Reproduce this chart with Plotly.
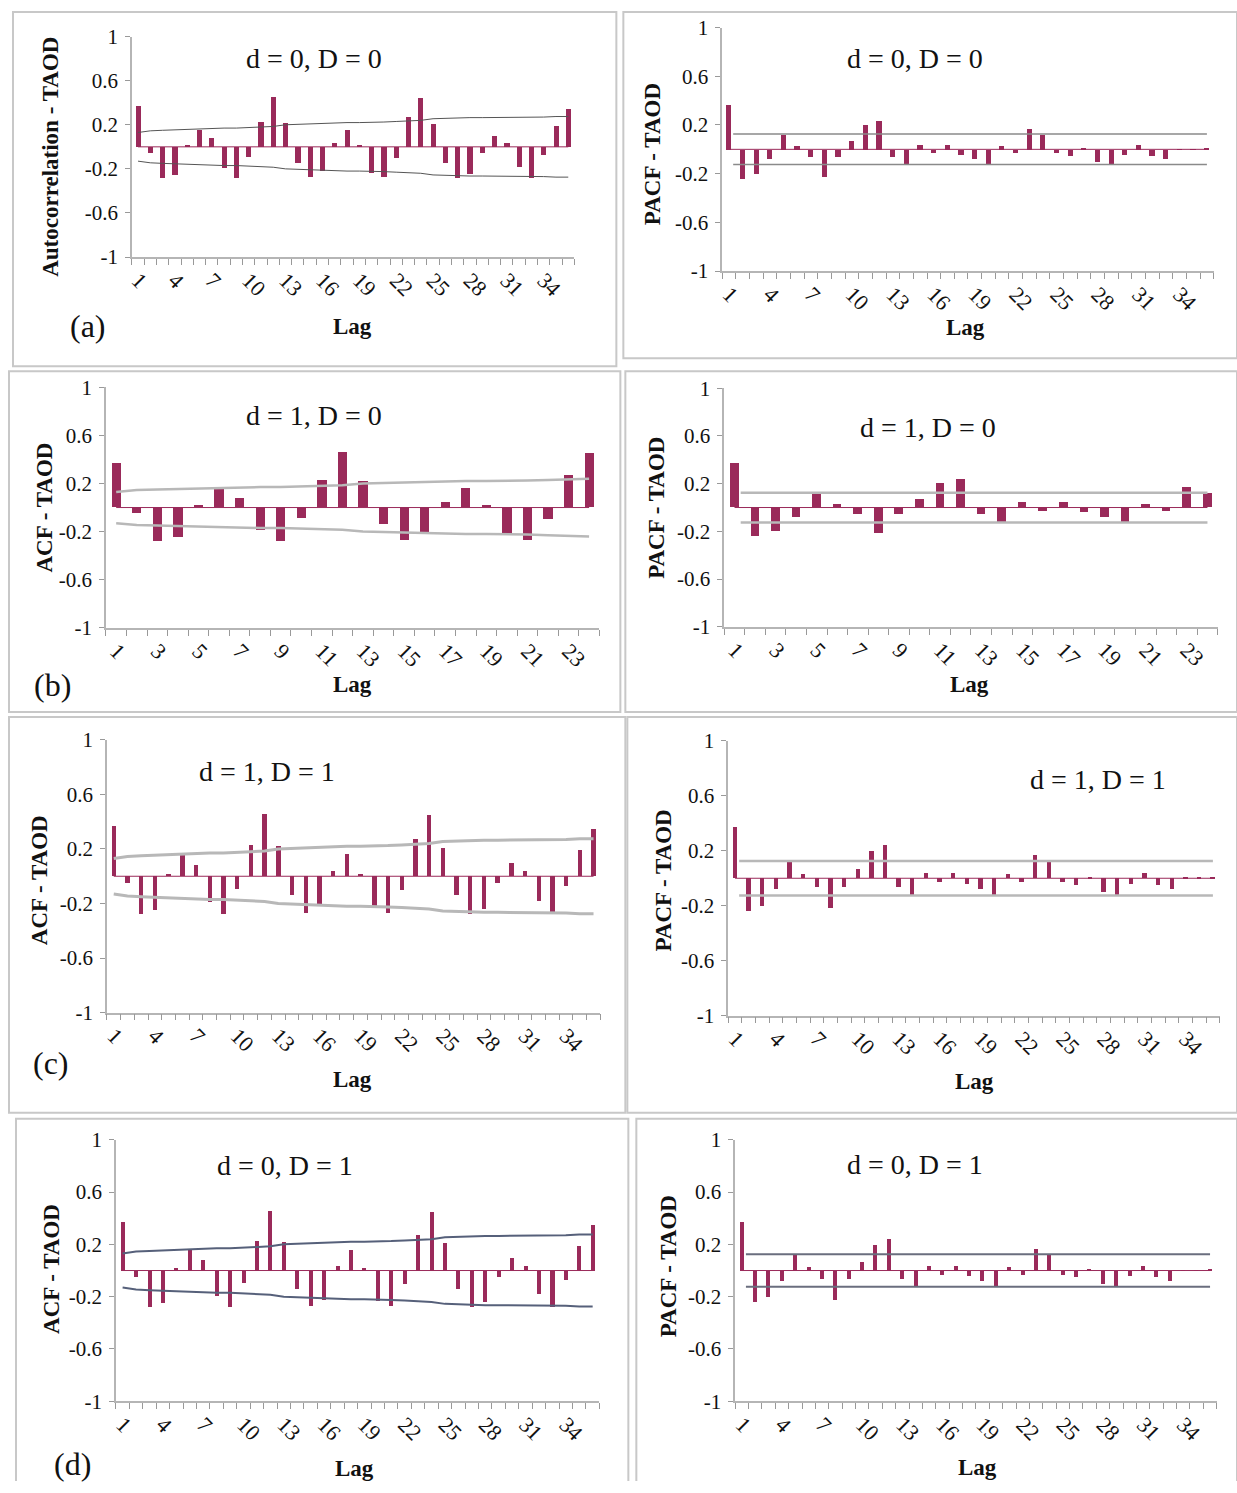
import plotly.graph_objects as go

W, H = 1237, 1493

# ---------------- data ----------------
lags36 = list(range(1, 37))
lags24 = list(range(1, 25))

acf_vals = [0.37, -0.05, -0.28, -0.25, 0.02, 0.16, 0.08, -0.19, -0.28, -0.09,
            0.23, 0.46, 0.22, -0.14, -0.27, -0.22, 0.04, 0.16, 0.02, -0.23,
            -0.27, -0.10, 0.27, 0.45, 0.21, -0.14, -0.28, -0.24, -0.05, 0.10,
            0.04, -0.18, -0.28, -0.07, 0.19, 0.35]
acf_conf = [0.13, 0.145, 0.15, 0.155, 0.16, 0.16, 0.165, 0.17, 0.17, 0.175,
            0.18, 0.185, 0.20, 0.205, 0.21, 0.215, 0.215, 0.22, 0.22, 0.22,
            0.225, 0.23, 0.235, 0.24, 0.255, 0.26, 0.26, 0.265, 0.265, 0.265,
            0.265, 0.27, 0.27, 0.27, 0.275, 0.275]

pacf_vals = [0.37, -0.24, -0.20, -0.08, 0.12, 0.03, -0.06, -0.22, -0.06, 0.07,
             0.20, 0.24, -0.06, -0.12, 0.04, -0.03, 0.04, -0.04, -0.08, -0.12,
             0.03, -0.03, 0.17, 0.12, -0.03, -0.05, 0.01, -0.10, -0.12, -0.04,
             0.04, -0.05, -0.08, 0.005, 0.005, 0.01]
pacf_conf = 0.125

y_ticks = [-1, -0.6, -0.2, 0.2, 0.6, 1]
y_tick_text = ["-1", "-0.6", "-0.2", "0.2", "0.6", "1"]

titles = ["d = 0, D = 0", "d = 0, D = 0", "d = 1, D = 0", "d = 1, D = 0",
          "d = 1, D = 1", "d = 1, D = 1", "d = 0, D = 1", "d = 0, D = 1"]
ylabels = ["Autocorrelation - TAOD", "PACF - TAOD", "ACF - TAOD", "PACF - TAOD",
           "ACF - TAOD", "PACF - TAOD", "ACF - TAOD", "PACF - TAOD"]
panel_tags = ["(a)", "(b)", "(c)", "(d)"]

BAR = "#9a2a5a"
SERIF = "Liberation Serif, Times New Roman, serif"

# ---------------- layout geometry (pixels) ----------------
# plot area: x0, x1, y_top(=1), y_bot(=-1)
areas = [
    (131, 574, 38, 258), (722, 1214, 29, 272),
    (105, 599, 388, 628), (724, 1218, 389, 627),
    (106, 600, 740, 1012), (728, 1220, 741, 1015),
    (115, 599, 1139, 1400), (735, 1217, 1139, 1400),
]
boxes = [
    (12, 616, 6, 367), (623, 1240, 9, 359),
    (8, 620, 372, 712), (625, 1240, 372, 712),
    (8, 625, 717, 1112), (627, 1240, 717, 1112),
    (15, 628, 1118, 1500), (636, 1240, 1118, 1500),
]
title_pos = [(313, 60), (915, 60), (313, 416), (928, 428),
             (266, 771), (1098, 779), (284, 1165), (915, 1164)]
ylab_pos = [(50, 158), (653, 155), (44, 508), (656, 508),
            (38, 880), (663, 880), (50, 1268), (668, 1265)]
lag_pos = [(352, 327), (966, 328), (352, 685), (970, 685),
           (352, 1079), (975, 1081), (354, 1467), (978, 1466)]
tag_pos = [(87, 327), (52, 685), (50, 1062), (72, 1463)]

band_style = [("#555555", 1), ("#8a8a8a", 1.5), ("#b8b8b8", 2.5), ("#b8b8b8", 2.5),
              ("#b8b8b8", 3), ("#b8b8b8", 2.5), ("#56607a", 2), ("#6a6e7e", 2)]
bar_width = [0.42, 0.38, 0.45, 0.42, 0.32, 0.32, 0.30, 0.30]


def px(x):
    f = (x - 4) / 0.997
    return min(max(f / W, 0.0), 1.0)


def py(y):
    f = 746.5 + (y - 746.5) / 0.982
    return min(max(1 - f / H, 0.0), 1.0)


fig = go.Figure()
annotations = []
shapes = []


def add_text(x, y, text, size, angle=0):
    annotations.append(dict(x=px(x), y=py(y), xref="paper", yref="paper",
                            text=text, showarrow=False, textangle=angle,
                            xanchor="center", yanchor="middle",
                            font=dict(family=SERIF, size=size, color="#111")))


for i in range(8):
    is_acf = (i % 2 == 0)
    n = 24 if i in (2, 3) else 36
    lags = lags24 if n == 24 else lags36
    vals = (acf_vals if is_acf else pacf_vals)[:n]
    ax = "" if i == 0 else str(i + 1)
    xref, yref = "x" + ax, "y" + ax
    x0, x1, yt, yb = areas[i]
    col, lw = band_style[i]

    fig.add_trace(go.Bar(x=lags, y=vals, marker_color=BAR, marker_line_width=0,
                         width=bar_width[i], xaxis=xref, yaxis=yref,
                         showlegend=False))
    # zero line
    fig.add_trace(go.Scatter(x=[lags[0], lags[-1]], y=[0, 0], mode="lines",
                             line=dict(color=BAR, width=1), xaxis=xref,
                             yaxis=yref, showlegend=False, hoverinfo="skip"))
    if is_acf:
        up = acf_conf[:n]
        lo = [-v for v in up]
        xs = lags
    else:
        up = [pacf_conf, pacf_conf]
        lo = [-pacf_conf, -pacf_conf]
        xs = [lags[0] + 0.3, lags[-1]]
    for arr in (up, lo):
        fig.add_trace(go.Scatter(x=xs, y=arr, mode="lines",
                                 line=dict(color=col, width=lw), xaxis=xref,
                                 yaxis=yref, showlegend=False, hoverinfo="skip"))

    step = 2 if n == 24 else 3
    xt = list(range(1, n + 1, step))
    fig.layout["xaxis" + ax] = dict(
        domain=[px(x0), px(x1)], anchor=yref, range=[0.5, n + 0.5],
        tickvals=xt, ticktext=[str(v) for v in xt], tickangle=45,
        ticks="", showgrid=False, zeroline=False, showline=True,
        linecolor="#b5b5b5", linewidth=1.5,
        tickfont=dict(family=SERIF, size=22, color="#111"),
        minor=dict(tickvals=[k + 0.5 for k in range(0, n + 1)], ticks="outside",
                   ticklen=6, tickcolor="#999", tickwidth=1, showgrid=False),
        fixedrange=True,
    )
    fig.layout["yaxis" + ax] = dict(
        domain=[py(yb), py(yt)], anchor=xref, range=[-1, 1],
        tickvals=y_ticks, ticktext=y_tick_text, ticks="outside", ticklen=5,
        tickcolor="#999", showgrid=False, zeroline=False, showline=True,
        linecolor="#b5b5b5", linewidth=1.5, ticklabelstandoff=3,
        tickfont=dict(family=SERIF, size=21, color="#111"),
        fixedrange=True,
    )

    bx0, bx1, by0, by1 = boxes[i]
    if i >= 6:
        path = "M {a},{b} L {a},{c} L {d},{c} L {d},{b}".format(
            a=px(bx0), b=py(by1), c=py(by0), d=px(bx1))
        shapes.append(dict(type="path", xref="paper", yref="paper", path=path,
                           line=dict(color="#c8c8c8", width=2), layer="below"))
    else:
        shapes.append(dict(type="rect", xref="paper", yref="paper",
                           x0=px(bx0), x1=px(bx1), y0=py(by1), y1=py(by0),
                           line=dict(color="#c8c8c8", width=2), layer="below"))

    add_text(*title_pos[i], titles[i], 28)
    add_text(*ylab_pos[i], "<b>" + ylabels[i] + "</b>", 23, -90)
    add_text(*lag_pos[i], "<b>Lag</b>", 23)

for j, tag in enumerate(panel_tags):
    add_text(*tag_pos[j], tag, 32)

fig.update_layout(width=W, height=H, margin=dict(l=0, r=0, t=0, b=0),
                  paper_bgcolor="white", plot_bgcolor="white",
                  annotations=annotations, shapes=shapes, bargap=0)

fig.write_html("out.html", config={"displayModeBar": False},
               post_script="document.body.style.margin='0';")
